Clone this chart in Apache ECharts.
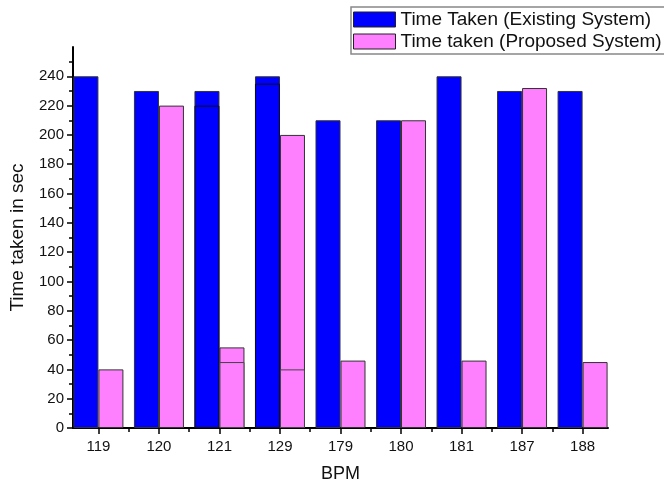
<!DOCTYPE html>
<html>
<head>
<meta charset="utf-8">
<script src="https://cdn.jsdelivr.net/npm/echarts@6/dist/echarts.min.js"></script>
<style>html,body{margin:0;padding:0;background:#fff}#c{width:664px;height:488px}</style>
</head>
<body>
<div id="c"></div>
<script>
const bpm = ['119','120','121','129','179','180','181','187','188'];
const existing = [240,230,230,240,210,210,240,230,230];
const proposed = [40,220,55,200,46,210,46,232,45];
const existingInner = [null,null,220,235,null,null,null,null,null];
const proposedInner = [null,null,45,40,null,null,null,null,null];
const yTickValues = [0,20,40,60,80,100,120,140,160,180,200,220,240];
const legendNames = ['Time Taken (Existing System)','Time taken (Proposed System)'];

const idx = bpm.map((_, i) => i);
const pairs = arr => arr.map((v, i) => [i, v]).filter(d => d[1] != null);
const font = 'Liberation Sans, Arial, sans-serif';
const blue = '#0000ff', pink = '#ff80ff', edge = '#333';

const chart = echarts.init(document.getElementById('c'), null, {renderer: 'canvas'});
const xBase = {
  type: 'value', min: -0.42, max: 8.42, splitNumber: 9,
  splitLine: {show: false}
};
chart.setOption({
  animation: false,
  backgroundColor: '#fff',
  textStyle: {fontFamily: font},
  grid: {left: 73, right: 56, top: 47, bottom: 56, containLabel: false},
  legend: {
    orient: 'vertical', left: 351, top: 7,
    data: legendNames,
    itemWidth: 42, itemHeight: 15, itemGap: 3,
    padding: [3, 6, 3, 2],
    borderColor: '#888', borderWidth: 1.5, borderRadius: 0,
    textStyle: {fontSize: 19, lineHeight: 15, color: '#111', fontFamily: font},
    itemStyle: {borderColor: '#222', borderWidth: 1},
    icon: 'rect'
  },
  xAxis: [
    Object.assign({}, xBase, {
      name: 'BPM', nameLocation: 'middle', nameGap: 37,
      nameTextStyle: {fontSize: 18, color: '#111', fontFamily: font},
      axisLine: {show: true, onZero: false, lineStyle: {color: '#000', width: 2}},
      axisTick: {show: true, length: 6, customValues: idx, lineStyle: {color: '#000', width: 1.5}},
      minorTick: {show: true, splitNumber: 2, length: 4, lineStyle: {color: '#000', width: 1.5}},
      axisLabel: {customValues: idx, formatter: v => bpm[Math.round(v)], fontSize: 15, color: '#111', margin: 11, fontFamily: font}
    }),
    Object.assign({}, xBase, {show: false})
  ],
  yAxis: {
    type: 'value', min: 0, max: 260, interval: 20,
    name: 'Time taken in sec', nameLocation: 'middle', nameGap: 46,
    nameTextStyle: {fontSize: 19, color: '#111', fontFamily: font},
    splitLine: {show: false},
    axisLine: {show: true, onZero: false, lineStyle: {color: '#000', width: 2}},
    axisTick: {show: true, length: 6, customValues: yTickValues, lineStyle: {color: '#000', width: 1.5}},
    minorTick: {show: true, splitNumber: 2, length: 4, lineStyle: {color: '#000', width: 1.5}},
    axisLabel: {customValues: yTickValues, fontSize: 15, color: '#111', margin: 9, fontFamily: font}
  },
  series: [
    {name: legendNames[0], type: 'bar', xAxisIndex: 0, data: pairs(existing), barWidth: 25, barGap: '0%',
     itemStyle: {color: blue, borderColor: edge, borderWidth: 1}},
    {name: legendNames[1], type: 'bar', xAxisIndex: 0, data: pairs(proposed), barWidth: 25, barGap: '0%',
     itemStyle: {color: pink, borderColor: edge, borderWidth: 1}},
    {name: legendNames[0], type: 'bar', xAxisIndex: 1, data: pairs(existingInner), barWidth: 25, barGap: '0%', z: 3,
     itemStyle: {color: blue, borderColor: '#111', borderWidth: 1}},
    {name: legendNames[1], type: 'bar', xAxisIndex: 1, data: pairs(proposedInner), barWidth: 25, barGap: '0%', z: 3,
     itemStyle: {color: pink, borderColor: '#444', borderWidth: 1}}
  ]
});
</script>
</body>
</html>
